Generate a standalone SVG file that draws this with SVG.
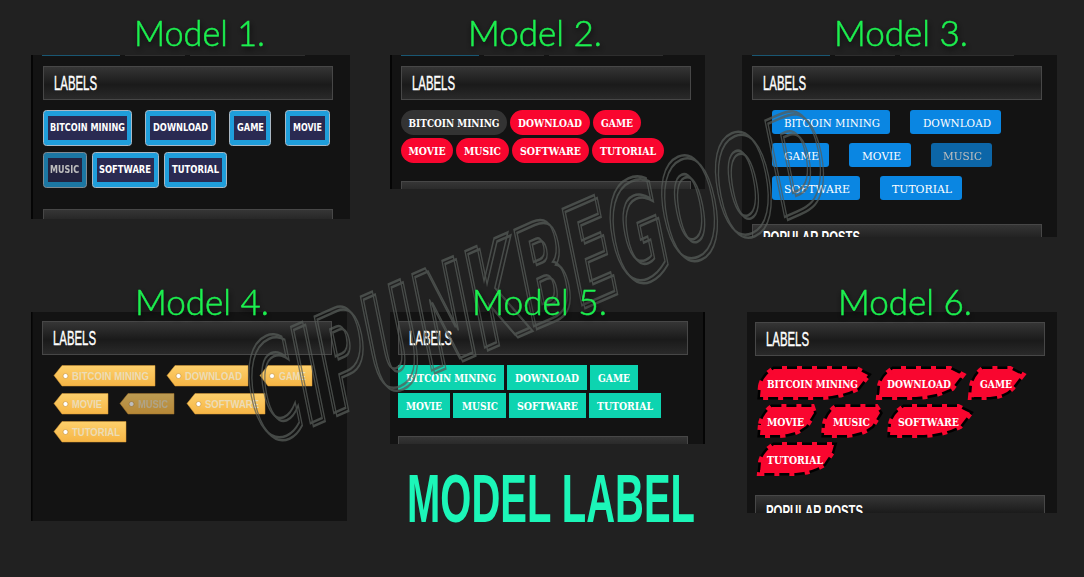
<svg xmlns="http://www.w3.org/2000/svg" width="1084" height="577" viewBox="0 0 1084 577">
<defs>
<linearGradient id="hg" x1="0" y1="0" x2="0" y2="1"><stop offset="0" stop-color="#363636"/><stop offset=".55" stop-color="#1a1a1a"/><stop offset="1" stop-color="#2a2a2a"/></linearGradient>
<linearGradient id="yg" x1="0" y1="0" x2="0" y2="1"><stop offset="0" stop-color="#fdd06c"/><stop offset="1" stop-color="#f6b545"/></linearGradient>
<filter id="sh" x="-10%" y="-30%" width="120%" height="170%"><feDropShadow dx="1" dy="3" stdDeviation="3" flood-color="#000" flood-opacity=".8"/></filter>
<filter id="wmd" x="-5%" y="-20%" width="110%" height="140%"><feDropShadow dx="3" dy="3" stdDeviation="0" flood-color="#565b58" flood-opacity="1"/></filter>
<clipPath id="c1"><rect x="31" y="55" width="319" height="164"/></clipPath>
<clipPath id="c2"><rect x="390" y="55" width="315" height="134"/></clipPath>
<clipPath id="c3"><rect x="742" y="55" width="315" height="182"/></clipPath>
<clipPath id="c5"><rect x="390" y="312" width="315" height="132"/></clipPath>
<clipPath id="c6"><rect x="747" y="312" width="310" height="201"/></clipPath>
</defs>
<style>
.panel{fill:#131313}
.edge{fill:#050505}
.hd{fill:url(#hg);stroke:#474747;stroke-width:1}
.tab{stroke:#4a4a4a;stroke-width:1}
.tabb{stroke:#1c6f94;stroke-width:1.5}
.title{font-family:Lato,"Open Sans",sans-serif;font-weight:300;font-size:35px;fill:#1cf04f;stroke:#1cf04f;stroke-width:.5;filter:url(#sh)}
.lab{font-family:"Liberation Sans Narrow","Liberation Sans",sans-serif;font-size:20px;fill:#fff;stroke:#fff;stroke-width:.4}
.pop{font-family:"Liberation Sans Narrow","Liberation Sans",sans-serif;font-size:17px;font-weight:700;fill:#fff}
.t{font-family:"DejaVu Serif",serif;font-size:10.5px;font-weight:700;fill:#fff}
.t1o{fill:#1f9edb;stroke:#aab8c4;stroke-width:1}
.t1i{fill:#2a2a52}
.t1{font-family:"DejaVu Sans",sans-serif;font-size:10px;font-weight:700;fill:#fff}
.dim{opacity:.72}
.r{fill:#f9062f}
.g{fill:#333}
.b{fill:#0a86e2}
.t3{font-family:"DejaVu Serif",serif;font-size:11.5px;fill:#fff}
.y{fill:url(#yg);stroke:#d99b35;stroke-width:.5}
.dot{fill:#fff;stroke:#c48f35;stroke-width:.6}
.t4{font-family:"Liberation Sans",sans-serif;font-size:10.5px;font-weight:700;fill:#ecdcb6}
.c{fill:#0dd4b0}
.leafb{fill:#000;stroke:#000;stroke-width:5}
.leafr{fill:#f9062f;stroke:#f9062f;stroke-width:6;stroke-dasharray:5 10}
.leaff{fill:#f9062f}
.wm{font-family:"DejaVu Sans",sans-serif;font-size:132px;font-weight:700;fill:none;stroke:#565b58;stroke-width:2.500}
.big{font-family:"Liberation Sans Narrow","Liberation Sans",sans-serif;font-weight:700;font-size:69px;fill:#1cf6b8}
</style>
<rect width="1084" height="577" fill="#212121"/>

<g id="panel-1" clip-path="url(#c1)">
<rect class="panel" x="31" y="55" width="319" height="164"/><rect class="edge" x="31" y="55" width="2" height="164"/>
<line class="tabb" x1="42" y1="55" x2="120" y2="55"/><line class="tab" x1="125" y1="55" x2="185" y2="55"/><line class="tab" x1="190" y1="55" x2="305" y2="55"/>
<rect class="hd" x="43.500" y="66.500" width="289" height="33"/><text class="lab" x="54" y="90" textLength="43" lengthAdjust="spacingAndGlyphs">LABELS</text>
<g id="m1-bitcoin"><rect class="t1o" x="43.500" y="110.500" width="88" height="35" rx="3"/><rect class="t1i" x="48" y="116" width="79" height="24"/><text class="t1" x="50" y="131" textLength="75" lengthAdjust="spacingAndGlyphs">BITCOIN MINING</text></g>
<g id="m1-download"><rect class="t1o" x="145.500" y="110.500" width="70" height="35" rx="3"/><rect class="t1i" x="150" y="116" width="61" height="24"/><text class="t1" x="153" y="131" textLength="55" lengthAdjust="spacingAndGlyphs">DOWNLOAD</text></g>
<g id="m1-game"><rect class="t1o" x="229.500" y="110.500" width="41" height="35" rx="3"/><rect class="t1i" x="234" y="116" width="32" height="24"/><text class="t1" x="237" y="131" textLength="27" lengthAdjust="spacingAndGlyphs">GAME</text></g>
<g id="m1-movie"><rect class="t1o" x="285.500" y="110.500" width="44" height="35" rx="3"/><rect class="t1i" x="290" y="116" width="35" height="24"/><text class="t1" x="293" y="131" textLength="29" lengthAdjust="spacingAndGlyphs">MOVIE</text></g>
<g id="m1-music" class="dim"><rect class="t1o" x="43.500" y="152.500" width="43" height="35" rx="3"/><rect class="t1i" x="48" y="158" width="34" height="24"/><text class="t1" x="50" y="173" textLength="29" lengthAdjust="spacingAndGlyphs">MUSIC</text></g>
<g id="m1-software"><rect class="t1o" x="92.500" y="152.500" width="66" height="35" rx="3"/><rect class="t1i" x="97" y="158" width="57" height="24"/><text class="t1" x="99" y="173" textLength="52" lengthAdjust="spacingAndGlyphs">SOFTWARE</text></g>
<g id="m1-tutorial"><rect class="t1o" x="164.500" y="152.500" width="62" height="35" rx="3"/><rect class="t1i" x="169" y="158" width="53" height="24"/><text class="t1" x="172" y="173" textLength="47" lengthAdjust="spacingAndGlyphs">TUTORIAL</text></g>
<rect class="hd" x="43.500" y="209.500" width="289" height="33"/>
</g>

<g id="panel-2" clip-path="url(#c2)">
<rect class="panel" x="390" y="55" width="315" height="134"/><rect class="edge" x="390" y="55" width="2" height="134"/>
<line class="tabb" x1="401" y1="55" x2="479" y2="55"/><line class="tab" x1="484" y1="55" x2="544" y2="55"/><line class="tab" x1="549" y1="55" x2="663" y2="55"/>
<rect class="hd" x="401.500" y="66.500" width="289" height="33"/><text class="lab" x="412" y="90" textLength="43" lengthAdjust="spacingAndGlyphs">LABELS</text>
<g id="m2-bitcoin"><rect class="g" x="401" y="110" width="106" height="25" rx="12.500"/><text class="t" x="408.500" y="127" textLength="91" lengthAdjust="spacingAndGlyphs">BITCOIN MINING</text></g>
<g id="m2-download"><rect class="r" x="510" y="110" width="80" height="25" rx="12.500"/><text class="t" x="518" y="127" textLength="64" lengthAdjust="spacingAndGlyphs">DOWNLOAD</text></g>
<g id="m2-game"><rect class="r" x="593" y="110" width="48" height="25" rx="12.500"/><text class="t" x="601" y="127" textLength="32" lengthAdjust="spacingAndGlyphs">GAME</text></g>
<g id="m2-movie"><rect class="r" x="401" y="138" width="52" height="25" rx="12.500"/><text class="t" x="408.500" y="155" textLength="37" lengthAdjust="spacingAndGlyphs">MOVIE</text></g>
<g id="m2-music"><rect class="r" x="456" y="138" width="53" height="25" rx="12.500"/><text class="t" x="464" y="155" textLength="37" lengthAdjust="spacingAndGlyphs">MUSIC</text></g>
<g id="m2-software"><rect class="r" x="512" y="138" width="77" height="25" rx="12.500"/><text class="t" x="520" y="155" textLength="61" lengthAdjust="spacingAndGlyphs">SOFTWARE</text></g>
<g id="m2-tutorial"><rect class="r" x="592" y="138" width="72" height="25" rx="12.500"/><text class="t" x="600" y="155" textLength="56" lengthAdjust="spacingAndGlyphs">TUTORIAL</text></g>
<rect class="hd" x="401.500" y="181.500" width="289" height="33"/>
</g>

<g id="panel-3" clip-path="url(#c3)">
<rect class="panel" x="742" y="55" width="315" height="182"/>
<line class="tabb" x1="752" y1="55" x2="830" y2="55"/><line class="tab" x1="835" y1="55" x2="895" y2="55"/><line class="tab" x1="900" y1="55" x2="1014" y2="55"/>
<rect class="hd" x="752.500" y="66.500" width="289" height="33"/><text class="lab" x="763" y="90" textLength="43" lengthAdjust="spacingAndGlyphs">LABELS</text>
<g id="m3-bitcoin"><rect class="b" x="772" y="110" width="118" height="24" rx="3"/><text class="t3" x="784" y="127" textLength="96" lengthAdjust="spacingAndGlyphs">BITCOIN MINING</text></g>
<g id="m3-download"><rect class="b" x="910" y="110" width="91" height="24" rx="3"/><text class="t3" x="923" y="127" textLength="68" lengthAdjust="spacingAndGlyphs">DOWNLOAD</text></g>
<g id="m3-game"><rect class="b" x="772" y="143" width="57" height="24" rx="3"/><text class="t3" x="784" y="160" textLength="35" lengthAdjust="spacingAndGlyphs">GAME</text></g>
<g id="m3-movie"><rect class="b" x="849" y="143" width="62" height="24" rx="3"/><text class="t3" x="862" y="160" textLength="39" lengthAdjust="spacingAndGlyphs">MOVIE</text></g>
<g id="m3-music" class="dim"><rect class="b" x="931" y="143" width="61" height="24" rx="3"/><text class="t3" x="943" y="160" textLength="39" lengthAdjust="spacingAndGlyphs">MUSIC</text></g>
<g id="m3-software"><rect class="b" x="772" y="176" width="88" height="24" rx="3"/><text class="t3" x="784" y="193" textLength="66" lengthAdjust="spacingAndGlyphs">SOFTWARE</text></g>
<g id="m3-tutorial"><rect class="b" x="880" y="176" width="82" height="24" rx="3"/><text class="t3" x="892" y="193" textLength="60" lengthAdjust="spacingAndGlyphs">TUTORIAL</text></g>
<rect class="hd" x="752.500" y="224.500" width="289" height="33"/><text class="pop" x="763" y="243" textLength="97" lengthAdjust="spacingAndGlyphs">POPULAR POSTS</text>
</g>

<g id="panel-4">
<rect class="panel" x="31" y="312" width="316" height="209"/><rect class="edge" x="31" y="312" width="1.500" height="209"/>
<rect class="hd" x="42.500" y="321.500" width="289" height="33"/><text class="lab" x="53" y="345" textLength="43" lengthAdjust="spacingAndGlyphs">LABELS</text>
<g id="m4-bitcoin"><path class="y" d="M54 375.500 62 365.500H155V386H62Z"/><circle class="dot" cx="65.500" cy="376" r="2.500"/><text class="t4" x="72" y="380" textLength="77" lengthAdjust="spacingAndGlyphs">BITCOIN MINING</text></g>
<g id="m4-download"><path class="y" d="M167 375.500 175 365.500H248V386H175Z"/><circle class="dot" cx="178.500" cy="376" r="2.500"/><text class="t4" x="185" y="380" textLength="57" lengthAdjust="spacingAndGlyphs">DOWNLOAD</text></g>
<g id="m4-game"><path class="y" d="M260 375.500 268 365.500H312V386H268Z"/><circle class="dot" cx="272" cy="376" r="2.500"/><text class="t4" x="279" y="380" textLength="27" lengthAdjust="spacingAndGlyphs">GAME</text></g>
<g id="m4-movie"><path class="y" d="M54 403.500 62 393.500H108V414H62Z"/><circle class="dot" cx="65.500" cy="404" r="2.500"/><text class="t4" x="72" y="408" textLength="30" lengthAdjust="spacingAndGlyphs">MOVIE</text></g>
<g id="m4-music" class="dim"><path class="y" d="M120 403.500 128 393.500H174V414H128Z"/><circle class="dot" cx="131.500" cy="404" r="2.500"/><text class="t4" x="138" y="408" textLength="30" lengthAdjust="spacingAndGlyphs">MUSIC</text></g>
<g id="m4-software"><path class="y" d="M187 403.500 195 393.500H265V414H195Z"/><circle class="dot" cx="198.500" cy="404" r="2.500"/><text class="t4" x="205" y="408" textLength="54" lengthAdjust="spacingAndGlyphs">SOFTWARE</text></g>
<g id="m4-tutorial"><path class="y" d="M54 431.500 62 421.500H126V442H62Z"/><circle class="dot" cx="65.500" cy="432" r="2.500"/><text class="t4" x="72" y="436" textLength="48" lengthAdjust="spacingAndGlyphs">TUTORIAL</text></g>
</g>

<g id="panel-5" clip-path="url(#c5)">
<rect class="panel" x="390" y="312" width="315" height="132"/><rect class="edge" x="703" y="312" width="2" height="132"/>
<rect class="hd" x="398.500" y="321.500" width="289" height="33"/><text class="lab" x="409" y="345" textLength="43" lengthAdjust="spacingAndGlyphs">LABELS</text>
<g id="m5-bitcoin"><rect class="c" x="398" y="365" width="106" height="25"/><text class="t" x="406" y="382" textLength="90" lengthAdjust="spacingAndGlyphs">BITCOIN MINING</text></g>
<g id="m5-download"><rect class="c" x="507" y="365" width="80" height="25"/><text class="t" x="515" y="382" textLength="64" lengthAdjust="spacingAndGlyphs">DOWNLOAD</text></g>
<g id="m5-game"><rect class="c" x="590" y="365" width="48" height="25"/><text class="t" x="598" y="382" textLength="32" lengthAdjust="spacingAndGlyphs">GAME</text></g>
<g id="m5-movie"><rect class="c" x="398" y="393" width="52" height="25"/><text class="t" x="406" y="410" textLength="36" lengthAdjust="spacingAndGlyphs">MOVIE</text></g>
<g id="m5-music"><rect class="c" x="453" y="393" width="53" height="25"/><text class="t" x="462" y="410" textLength="36" lengthAdjust="spacingAndGlyphs">MUSIC</text></g>
<g id="m5-software"><rect class="c" x="509" y="393" width="77" height="25"/><text class="t" x="517" y="410" textLength="61" lengthAdjust="spacingAndGlyphs">SOFTWARE</text></g>
<g id="m5-tutorial"><rect class="c" x="589" y="393" width="72" height="25"/><text class="t" x="597" y="410" textLength="56" lengthAdjust="spacingAndGlyphs">TUTORIAL</text></g>
<rect class="hd" x="398.500" y="436.500" width="289" height="33"/>
</g>

<g id="panel-6" clip-path="url(#c6)">
<rect class="panel" x="747" y="312" width="310" height="201"/>
<rect class="hd" x="755.500" y="322.500" width="289" height="33"/><text class="lab" x="766" y="346" textLength="43" lengthAdjust="spacingAndGlyphs">LABELS</text>
<g id="m6-bitcoin"><path class="leafb" d="M761 386Q763 376 774 369H856L868 375 858 388Q842 396 822 397H760Z"/><path class="leafr" d="M761 386Q763 376 774 369H856L868 375 858 388Q842 396 822 397H760Z"/><text class="t" x="767" y="388" textLength="91" lengthAdjust="spacingAndGlyphs">BITCOIN MINING</text></g>
<g id="m6-download"><path class="leafb" d="M880 386Q882 376 893 369H950L962 375 952 388Q936 396 916 397H879Z"/><path class="leafr" d="M880 386Q882 376 893 369H950L962 375 952 388Q936 396 916 397H879Z"/><text class="t" x="887" y="388" textLength="64" lengthAdjust="spacingAndGlyphs">DOWNLOAD</text></g>
<g id="m6-game"><path class="leafb" d="M972 386Q974 376 983 369H1010L1022 375 1012 388Q1004 396 990 397H971Z"/><path class="leafr" d="M972 386Q974 376 983 369H1010L1022 375 1012 388Q1004 396 990 397H971Z"/><text class="t" x="980" y="388" textLength="32" lengthAdjust="spacingAndGlyphs">GAME</text></g>
<g id="m6-movie"><path class="leafb" d="M761 424Q763 414 772 407H812L814 413 806 426Q796 434 780 435H760Z"/><path class="leafr" d="M761 424Q763 414 772 407H812L814 413 806 426Q796 434 780 435H760Z"/><text class="t" x="767" y="426" textLength="37" lengthAdjust="spacingAndGlyphs">MOVIE</text></g>
<g id="m6-music"><path class="leafb" d="M825 424Q827 414 836 407H876L880 413 872 426Q862 434 846 435H824Z"/><path class="leafr" d="M825 424Q827 414 836 407H876L880 413 872 426Q862 434 846 435H824Z"/><text class="t" x="833" y="426" textLength="37" lengthAdjust="spacingAndGlyphs">MUSIC</text></g>
<g id="m6-software"><path class="leafb" d="M891 424Q893 414 904 407H958L970 413 960 426Q944 434 924 435H890Z"/><path class="leafr" d="M891 424Q893 414 904 407H958L970 413 960 426Q944 434 924 435H890Z"/><text class="t" x="898" y="426" textLength="61" lengthAdjust="spacingAndGlyphs">SOFTWARE</text></g>
<g id="m6-tutorial"><path class="leafb" d="M761 462Q763 452 774 445H834L832 452 824 464Q812 472 796 473H760Z"/><path class="leafr" d="M761 462Q763 452 774 445H834L832 452 824 464Q812 472 796 473H760Z"/><text class="t" x="767" y="464" textLength="56" lengthAdjust="spacingAndGlyphs">TUTORIAL</text></g>
<rect class="hd" x="755.500" y="495.500" width="289" height="33"/><text class="pop" x="766" y="517" textLength="97" lengthAdjust="spacingAndGlyphs">POPULAR POSTS</text>
</g>

<g id="watermark" opacity=".75" filter="url(#wmd)"><text class="wm" transform="translate(258 446) rotate(-23.500) skewX(-12)" textLength="625" lengthAdjust="spacingAndGlyphs">CIPUNKBEGOOD</text></g>

<g id="titles">
<text class="title" x="134" y="46" textLength="131" lengthAdjust="spacingAndGlyphs">Model 1.</text>
<text class="title" x="468" y="46" textLength="134" lengthAdjust="spacingAndGlyphs">Model 2.</text>
<text class="title" x="834" y="46" textLength="134" lengthAdjust="spacingAndGlyphs">Model 3.</text>
<text class="title" x="135" y="315" textLength="134" lengthAdjust="spacingAndGlyphs">Model 4.</text>
<text class="title" x="472" y="315" textLength="135" lengthAdjust="spacingAndGlyphs">Model 5.</text>
<text class="title" x="838" y="315" textLength="134" lengthAdjust="spacingAndGlyphs">Model 6.</text>
</g>
<g id="model-label"><text class="big" x="407" y="522" textLength="288" lengthAdjust="spacingAndGlyphs">MODEL LABEL</text></g>
</svg>
